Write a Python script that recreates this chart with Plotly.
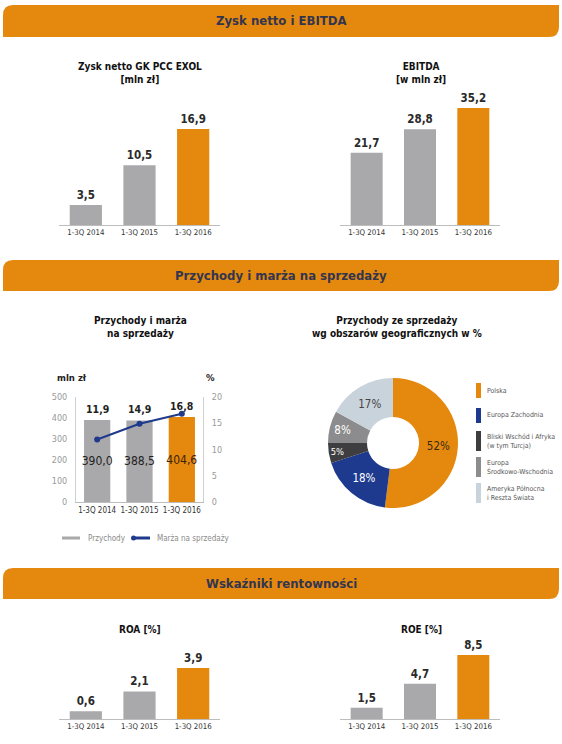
import plotly.graph_objects as go

W, H = 562, 744

# ── data ──────────────────────────────────────────────────────────────────────
periods = ["1-3Q 2014", "1-3Q 2015", "1-3Q 2016"]

zysk_netto = [3.5, 10.5, 16.9]
ebitda = [21.7, 28.8, 35.2]

przychody = [390.0, 388.5, 404.6]
marza = [11.9, 14.9, 16.8]

regions = ["Polska", "Europa Zachodnia", "Bliski Wschód i Afryka<br>(w tym Turcja)",
           "Europa<br>Środkowo-Wschodnia", "Ameryka Północna<br>i Reszta Świata"]
region_share = [52, 18, 5, 8, 17]

roa = [0.6, 2.1, 3.9]
roe = [1.5, 4.7, 8.5]

# ── style ─────────────────────────────────────────────────────────────────────
ORANGE = "#E5890E"
GREY = "#A9A9AB"
NAVY = "#1F3A8C"
HEAD = "#33354F"
FONT = "Liberation Sans Narrow, DejaVu Sans Condensed, Roboto, sans-serif"
bar_colors = [GREY, GREY, ORANGE]
region_colors = [ORANGE, "#1E3A8F", "#3E3E40", "#8C8C8E", "#C9D3DC"]
region_text = ["#3a2a10", "white", "white", "white", "#444444"]


def px(x):
    return x / W


def py(y):
    return 1 - y / H


fig = go.Figure()
shapes = []
annotations = []


def note(text, x, y, size, color, xanchor="center", **kw):
    annotations.append(dict(text=text, x=px(x), y=py(y), xref="paper", yref="paper",
                            showarrow=False, xanchor=xanchor, yanchor="middle",
                            font=dict(size=size, color=color, family=FONT), **kw))


def band(y0, y1, title):
    r = 10
    x0, x1 = 3, 559
    path = (f"M {px(x0)},{py(y1)} L {px(x0)},{py(y0 + r)} "
            f"Q {px(x0)},{py(y0)} {px(x0 + r)},{py(y0)} "
            f"L {px(x1)},{py(y0)} L {px(x1)},{py(y1 - r)} "
            f"Q {px(x1)},{py(y1)} {px(x1 - r)},{py(y1)} Z")
    shapes.append(dict(type="path", path=path, xref="paper", yref="paper",
                       fillcolor=ORANGE, line=dict(width=0), layer="below"))
    note(f"<b>{title}</b>", 281, (y0 + y1) / 2, 13, HEAD)


def title(x, y, text):
    note(f"<b>{text}</b>", x, y, 10, "#111111")


band(5, 37, "Zysk netto i EBITDA")
band(260, 291, "Przychody i marża na sprzedaży")
band(568, 599, "Wskaźniki rentowności")

# ── simple bar panels ─────────────────────────────────────────────────────────
panels = [
    # values, axis id, x px range, y px (top, base), ymax, title, title centre
    (zysk_netto, 1, (59, 220), (100, 225), 22.0, "Zysk netto GK PCC EXOL<br>[mln zł]", (140, 73)),
    (ebitda, 2, (340, 500), (100, 225), 37.6, "EBITDA<br>[w mln zł]", (421, 73)),
    (roa, 3, (59, 220), (640, 719), 6.03, "ROA [%]", (140, 629)),
    (roe, 4, (340, 500), (640, 719), 10.5, "ROE [%]", (421, 629)),
]

layout_axes = {}
for vals, n, (xa, xb), (yt, yb), ymax, ttl, (tx, ty) in panels:
    xn = "x" if n == 1 else f"x{n}"
    yn = "y" if n == 1 else f"y{n}"
    fig.add_trace(go.Bar(
        x=periods, y=vals, xaxis=xn, yaxis=yn,
        marker=dict(color=bar_colors, line=dict(width=0)),
        texttemplate="<b>%{y:.1f}</b>", textposition="outside", cliponaxis=False,
        constraintext="none", textangle=0,
        textfont=dict(size=11.5, color="#2a2a2a", family=FONT),
        showlegend=False, hoverinfo="skip", width=0.6,
    ))
    xkey = "xaxis" if n == 1 else f"xaxis{n}"
    ykey = "yaxis" if n == 1 else f"yaxis{n}"
    layout_axes[xkey] = dict(domain=[px(xa), px(xb)], anchor=yn, showgrid=False,
                             showline=True, linecolor="#BDBDBD", linewidth=1,
                             ticks="", tickangle=0, automargin=False,
                             tickfont=dict(size=7.8, color="#333333", family=FONT),
                             fixedrange=True)
    layout_axes[ykey] = dict(domain=[py(yb), py(yt)], anchor=xn, range=[0, ymax],
                             visible=False, fixedrange=True, automargin=False)
    title(tx, ty, ttl)

# ── revenue + margin panel ────────────────────────────────────────────────────
fig.add_trace(go.Bar(
    x=periods, y=przychody, xaxis="x5", yaxis="y5",
    marker=dict(color=bar_colors, line=dict(width=0)),
    texttemplate="%{y:.1f}", textposition="inside", insidetextanchor="middle",
    constraintext="none", textangle=0,
    textfont=dict(size=12, color=["#222222", "#222222", "#3a2208"], family=FONT),
    showlegend=False, hoverinfo="skip", width=0.62,
))
fig.add_trace(go.Scatter(
    x=periods, y=marza, xaxis="x5", yaxis="y6", mode="lines+markers",
    line=dict(color=NAVY, width=2), marker=dict(size=6, color=NAVY),
    showlegend=False, hoverinfo="skip",
))
for p, b, m in zip(periods, przychody, marza):
    annotations.append(dict(x=p, y=b, xref="x5", yref="y5", text=f"<b>{m:.1f}</b>".replace(".", ","),
                            showarrow=False, xanchor="center", yanchor="bottom", yshift=3,
                            font=dict(size=10.5, color="#222222", family=FONT)))

layout_axes["xaxis5"] = dict(domain=[px(76), px(203)], anchor="y5", showgrid=False,
                             showline=True, linecolor="#BDBDBD", linewidth=1, ticks="",
                             tickangle=0, automargin=False,
                             tickfont=dict(size=8, color="#333333", family=FONT),
                             fixedrange=True)
layout_axes["yaxis5"] = dict(domain=[py(502), py(397)], anchor="x5", range=[0, 500],
                             dtick=100, showgrid=False, showline=True, linecolor="#D0D0D0",
                             tickfont=dict(size=9, color="#9A9A9A", family=FONT),
                             zeroline=False, fixedrange=True, ticklabelstandoff=6,
                             automargin=False)
layout_axes["yaxis6"] = dict(overlaying="y5", side="right", anchor="x5", range=[0, 20],
                             dtick=5, showgrid=False, showline=True, linecolor="#D0D0D0",
                             tickfont=dict(size=9, color="#9A9A9A", family=FONT),
                             zeroline=False, fixedrange=True, ticklabelstandoff=6,
                             automargin=False)

note("<b>mln zł</b>", 55, 377, 9.5, "#222222", xanchor="left")
note("<b>%</b>", 210, 377, 9.5, "#222222")
title(140, 327, "Przychody i marża<br>na sprzedaży")

# legend for revenue panel
shapes.append(dict(type="line", x0=px(62), x1=px(80), y0=py(538), y1=py(538),
                   xref="paper", yref="paper", line=dict(color=GREY, width=3)))
note("Przychody", 86, 538, 8, "#8A8A8A", xanchor="left")
shapes.append(dict(type="line", x0=px(132), x1=px(150), y0=py(538), y1=py(538),
                   xref="paper", yref="paper", line=dict(color=NAVY, width=3)))
shapes.append(dict(type="circle", x0=px(131), x1=px(136), y0=py(540.5), y1=py(535.5),
                   xref="paper", yref="paper", fillcolor=NAVY, line=dict(width=0)))
note("Marża na sprzedaży", 155, 538, 8, "#8A8A8A", xanchor="left")

# ── donut ─────────────────────────────────────────────────────────────────────
fig.add_trace(go.Pie(
    labels=regions, values=region_share, hole=0.4, sort=False, direction="clockwise",
    marker=dict(colors=region_colors, line=dict(width=0)),
    texttemplate="%{value}%", textposition="inside", insidetextorientation="horizontal",
    textfont=dict(size=11.5, color=region_text, family=FONT),
    domain=dict(x=[px(328), px(458)], y=[py(508), py(378)]),
    showlegend=False, hoverinfo="skip",
))
title(397, 327, "Przychody ze sprzedaży<br>wg obszarów geograficznych w %")

legend_rows = [(383, 398, 391), (408, 423, 415), (431, 451, 441), (457, 477, 467), (483, 503, 493)]
for (y0, y1, yc), name, col in zip(legend_rows, regions, region_colors):
    shapes.append(dict(type="rect", x0=px(476), x1=px(481), y0=py(y1), y1=py(y0),
                       xref="paper", yref="paper", fillcolor=col, line=dict(width=0)))
    note(name, 485, yc, 6.9, "#555555", xanchor="left", align="left")

fig.update_layout(
    width=W, height=H,
    margin=dict(l=0, r=0, t=0, b=0, autoexpand=False),
    paper_bgcolor="white", plot_bgcolor="white",
    separators=", ",
    font=dict(family=FONT),
    bargap=0.4,
    shapes=shapes, annotations=annotations,
    **layout_axes,
)

# the page body has a default 8px margin; drop it so the figure fills the window
fig.write_html("out.html", config={"displayModeBar": False},
               post_script="document.body.style.margin='0';document.body.style.overflow='hidden';")
